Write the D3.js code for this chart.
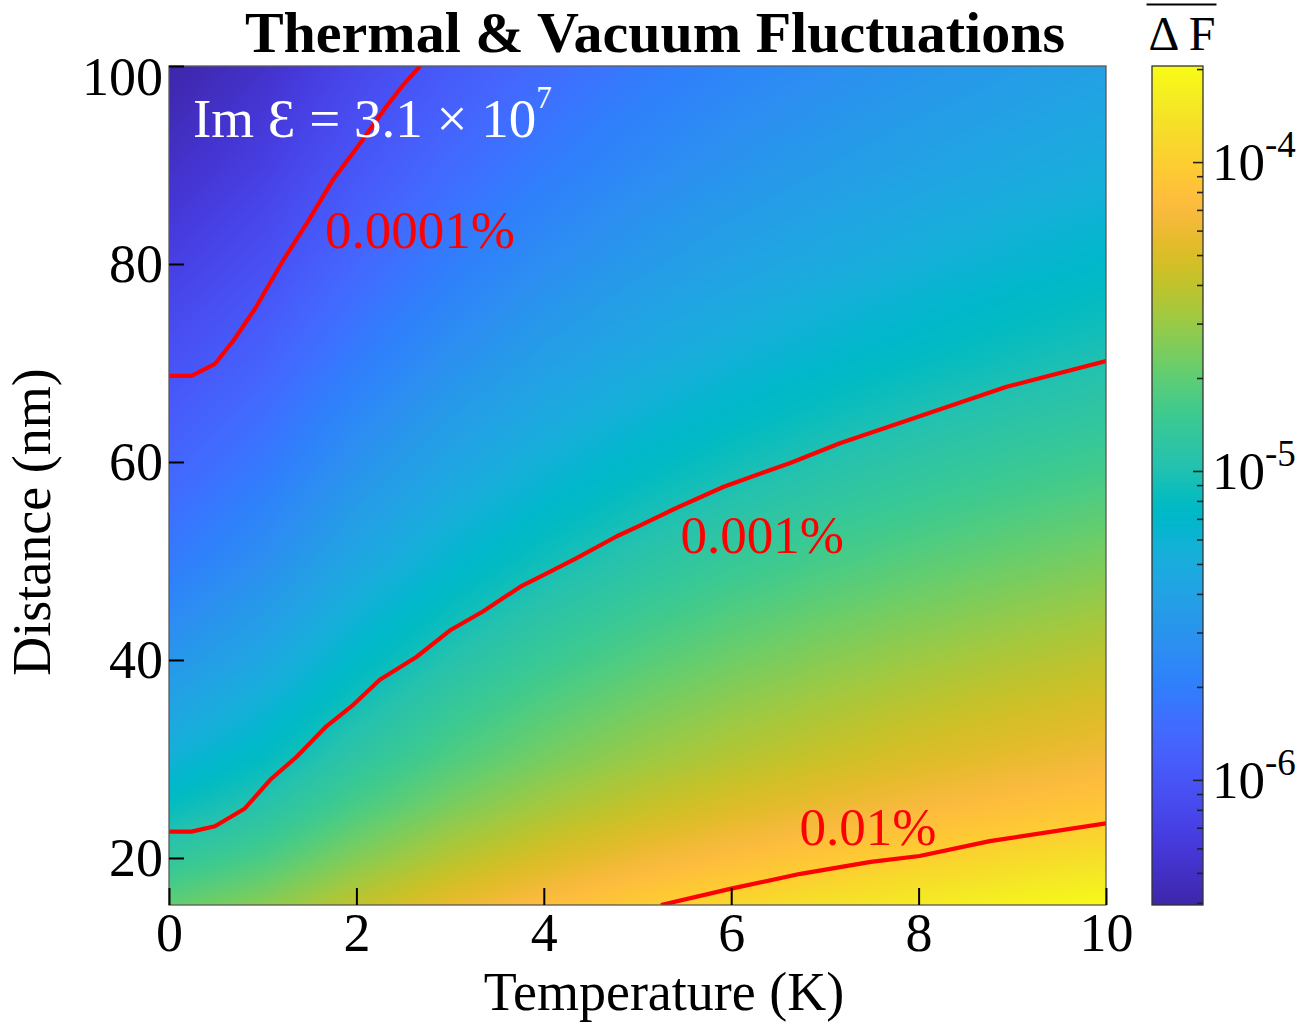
<!DOCTYPE html>
<html><head><meta charset="utf-8">
<script src="https://cdn.jsdelivr.net/npm/d3@7"></script>
<style>
body{margin:0;background:#fff}
svg{display:block}
text{font-family:"Liberation Serif","Times New Roman","DejaVu Serif",serif}
</style>
</head><body>
<svg id="chart" width="1301" height="1024"></svg>
<script>
// ---------------- data ----------------
const temperatures = [0,1,2,3,4,5,6,7,8,9,10];            // K
const distances    = [15,20,25,30,40,50,60,70,80,90,100];  // nm
// log10 of relative force change, rows follow `distances`, columns follow `temperatures`
const logDF = [
  [-4.680,-4.562,-4.385,-4.234,-4.112,-4.012,-3.928,-3.857,-3.794,-3.739,-3.690],
  [-4.895,-4.770,-4.586,-4.431,-4.307,-4.205,-4.121,-4.048,-3.985,-3.930,-3.880],
  [-5.084,-4.954,-4.764,-4.606,-4.480,-4.377,-4.292,-4.219,-4.156,-4.100,-4.050],
  [-5.242,-5.106,-4.911,-4.751,-4.623,-4.519,-4.433,-4.360,-4.296,-4.240,-4.190],
  [-5.504,-5.352,-5.142,-4.973,-4.841,-4.735,-4.647,-4.572,-4.507,-4.451,-4.400],
  [-5.720,-5.566,-5.355,-5.185,-5.052,-4.946,-4.857,-4.783,-4.718,-4.661,-4.610],
  [-5.880,-5.739,-5.539,-5.375,-5.246,-5.141,-5.055,-4.981,-4.917,-4.860,-4.810],
  [-6.020,-5.892,-5.705,-5.549,-5.423,-5.321,-5.236,-5.164,-5.101,-5.045,-4.995],
  [-6.164,-6.039,-5.855,-5.700,-5.576,-5.475,-5.390,-5.318,-5.255,-5.200,-5.150],
  [-6.290,-6.169,-5.989,-5.837,-5.714,-5.613,-5.529,-5.457,-5.395,-5.340,-5.290],
  [-6.405,-6.285,-6.107,-5.955,-5.833,-5.733,-5.649,-5.577,-5.515,-5.459,-5.410]
];
// contour lines [temperature, distance]
const contour0001 = [[0,68.7],[0.24,68.7],[0.49,69.9],[0.69,72.3],[0.92,75.5],[1.22,80.4],[1.47,84.1],[1.75,88.5],[2.04,92.2],[2.32,95.9],[2.50,98.1],[2.68,100]];
const contour001  = [[0,22.66],[0.24,22.66],[0.49,23.2],[0.81,25.0],[1.08,27.9],[1.36,30.2],[1.68,33.3],[1.97,35.5],[2.25,38.0],[2.64,40.3],[3.0,43.0],[3.35,44.9],[3.75,47.4],[4.0,48.6],[4.35,50.3],[4.78,52.5],[5.03,53.6],[5.38,55.2],[5.92,57.5],[6.63,59.9],[7.16,61.9],[8.16,65.1],[8.94,67.6],[10,70.2]];
const contour01   = [[5.25,15.25],[6.0,16.9],[6.74,18.4],[7.49,19.6],[8.01,20.2],[8.76,21.7],[10,23.5]];
const contourLabels = ["0.0001%","0.001%","0.01%"];
const contourLabelAt = [[1.665,81.6],[5.46,50.8],[6.73,21.3]];
const xTicks = [0,2,4,6,8,10];
const yTicks = [20,40,60,80,100];
const cbarMajor = [1e-6,1e-5,1e-4];
const cbarExp = ["-6","-5","-4"];
const xDomain = [0,10];
const yDomain = [15.25,100];
const logRange = [-6.405,-3.689];

// MATLAB parula(64)
const parula = [
[0.2422,0.1504,0.6603],[0.2504,0.1650,0.7076],[0.2578,0.1818,0.7511],[0.2647,0.1978,0.7952],
[0.2706,0.2147,0.8364],[0.2751,0.2342,0.8710],[0.2783,0.2559,0.8991],[0.2803,0.2782,0.9221],
[0.2813,0.3006,0.9414],[0.2810,0.3228,0.9579],[0.2795,0.3447,0.9717],[0.2760,0.3667,0.9829],
[0.2699,0.3892,0.9906],[0.2602,0.4123,0.9952],[0.2440,0.4358,0.9988],[0.2206,0.4603,0.9973],
[0.1963,0.4847,0.9892],[0.1834,0.5074,0.9798],[0.1786,0.5289,0.9682],[0.1764,0.5499,0.9520],
[0.1687,0.5703,0.9359],[0.1540,0.5902,0.9218],[0.1460,0.6091,0.9079],[0.1380,0.6276,0.8973],
[0.1248,0.6459,0.8883],[0.1113,0.6635,0.8763],[0.0952,0.6798,0.8598],[0.0689,0.6948,0.8394],
[0.0297,0.7082,0.8163],[0.0036,0.7203,0.7917],[0.0067,0.7312,0.7660],[0.0433,0.7411,0.7394],
[0.0964,0.7500,0.7120],[0.1408,0.7584,0.6842],[0.1717,0.7670,0.6554],[0.1938,0.7758,0.6251],
[0.2161,0.7843,0.5923],[0.2470,0.7918,0.5567],[0.2906,0.7973,0.5188],[0.3406,0.8008,0.4789],
[0.3909,0.8029,0.4354],[0.4456,0.8024,0.3909],[0.5044,0.7993,0.3480],[0.5616,0.7942,0.3045],
[0.6174,0.7876,0.2612],[0.6720,0.7793,0.2227],[0.7242,0.7698,0.1910],[0.7738,0.7598,0.1646],
[0.8203,0.7498,0.1535],[0.8634,0.7406,0.1596],[0.9035,0.7330,0.1774],[0.9393,0.7288,0.2100],
[0.9728,0.7298,0.2394],[0.9956,0.7434,0.2371],[0.9970,0.7659,0.2199],[0.9952,0.7893,0.2028],
[0.9892,0.8136,0.1885],[0.9786,0.8386,0.1766],[0.9676,0.8639,0.1643],[0.9610,0.8890,0.1537],
[0.9597,0.9135,0.1423],[0.9628,0.9373,0.1265],[0.9691,0.9606,0.1064],[0.9769,0.9839,0.0805]];

// ---------------- scales ----------------
const svg = d3.select("#chart");
const x = d3.scaleLinear().domain(xDomain).range([169,1106]);
const y = d3.scaleLinear().domain(yDomain).range([905,66]);
const cy = d3.scaleLog().domain([10**logRange[0],10**logRange[1]]).range([905,66]);
const interp = d3.piecewise(d3.interpolateRgb, parula.map(c=>d3.rgb(c[0]*255,c[1]*255,c[2]*255)));

const LUTN = 2048;
const lut = d3.range(LUTN).map(i=>{const c=d3.rgb(interp(i/(LUTN-1)));return [c.r,c.g,c.b];});
function lutColor(v){
  let t=(v-logRange[0])/(logRange[1]-logRange[0]);
  t=Math.max(0,Math.min(1,t));
  return lut[Math.round(t*(LUTN-1))];
}
function valueAt(T,d){
  const i=Math.min(Math.max(d3.bisectRight(temperatures,T)-1,0),temperatures.length-2);
  const j=Math.min(Math.max(d3.bisectRight(distances,d)-1,0),distances.length-2);
  const tx=(T-temperatures[i])/(temperatures[i+1]-temperatures[i]);
  const ty=(d-distances[j])/(distances[j+1]-distances[j]);
  const a=logDF[j][i]*(1-tx)+logDF[j][i+1]*tx;
  const b=logDF[j+1][i]*(1-tx)+logDF[j+1][i+1]*tx;
  return a*(1-ty)+b*ty;
}

// ---------------- heatmap ----------------
const px0=x(xDomain[0]), px1=x(xDomain[1]), pyT=y(yDomain[1]), pyB=y(yDomain[0]);
const W=Math.round(px1-px0), H=Math.round(pyB-pyT);
const cv=document.createElement("canvas"); cv.width=W; cv.height=H;
const ctx=cv.getContext("2d"); const img=ctx.createImageData(W,H);
for(let jj=0;jj<H;jj++){
  const d=y.invert(pyT+jj+0.5);
  for(let ii=0;ii<W;ii++){
    const T=x.invert(px0+ii+0.5);
    const c=lutColor(valueAt(T,d));
    const k=(jj*W+ii)*4;
    img.data[k]=c[0];img.data[k+1]=c[1];img.data[k+2]=c[2];img.data[k+3]=255;
  }
}
ctx.putImageData(img,0,0);
svg.append("image").attr("x",px0).attr("y",pyT).attr("width",px1-px0).attr("height",pyB-pyT)
  .attr("preserveAspectRatio","none").attr("href",cv.toDataURL());

// clip for contours
svg.append("clipPath").attr("id","plotclip").append("rect")
  .attr("x",px0).attr("y",pyT).attr("width",px1-px0).attr("height",pyB-pyT);

const line=d3.line().x(p=>x(p[0])).y(p=>y(p[1]));
const cg=svg.append("g").attr("clip-path","url(#plotclip)");
[contour0001,contour001,contour01].forEach(c=>{
  cg.append("path").attr("d",line(c)).attr("fill","none").attr("stroke","#ff0000")
    .attr("stroke-width",4.2).attr("stroke-linejoin","round");
});
contourLabels.forEach((t,i)=>{
  svg.append("text").attr("x",x(contourLabelAt[i][0])).attr("y",y(contourLabelAt[i][1]))
    .attr("font-size",53).attr("fill","#ff0000").text(t);
});

// annotation
const ann=svg.append("text").attr("x",x(0.256)).attr("y",y(92.8)).attr("font-size",55).attr("fill","#fff");
ann.append("tspan").text("Im \u0190 = 3.1 \u00d7 10");
ann.append("tspan").attr("font-size",31).attr("dy",-29).text("7");

// frame
svg.append("rect").attr("x",px0).attr("y",pyT).attr("width",px1-px0).attr("height",pyB-pyT)
  .attr("fill","none").attr("stroke","#5a5a5a").attr("stroke-width",1.3);

// axes
const gx=svg.append("g").attr("transform",`translate(0,${pyB})`)
  .call(d3.axisBottom(x).tickValues(xTicks).tickFormat(d3.format("d")).tickSizeInner(-17).tickSizeOuter(0).tickPadding(8));
const gy=svg.append("g").attr("transform",`translate(${px0},0)`)
  .call(d3.axisLeft(y).tickValues(yTicks).tickFormat(d3.format("d")).tickSizeInner(-15).tickSizeOuter(0).tickPadding(6));
[gx,gy].forEach(g=>{
  g.select(".domain").remove();
  g.selectAll(".tick line").attr("stroke","#000").attr("stroke-width",2);
  g.selectAll(".tick text").attr("font-size",54).attr("fill","#000")
    .attr("font-family",'"Liberation Serif","Times New Roman",serif');
});
gy.selectAll(".tick text").filter(d=>d===100).attr("dy","0.53em");

// axis titles
svg.append("text").attr("x",664).attr("y",1010).attr("text-anchor","middle").attr("font-size",54).text("Temperature (K)");
svg.append("text").attr("transform","translate(50,522) rotate(-90)").attr("text-anchor","middle").attr("font-size",54).text("Distance (nm)");
svg.append("text").attr("x",655).attr("y",52).attr("text-anchor","middle").attr("font-size",58).attr("font-weight","bold").text("Thermal & Vacuum Fluctuations");

// ---------------- colorbar ----------------
const cbx0=1152, cbx1=1203;
const cb=document.createElement("canvas"); cb.width=1; cb.height=H;
const cctx=cb.getContext("2d"); const cimg=cctx.createImageData(1,H);
for(let jj=0;jj<H;jj++){
  const v=Math.log10(cy.invert(pyT+jj+0.5));
  const c=lutColor(v);
  cimg.data[jj*4]=c[0];cimg.data[jj*4+1]=c[1];cimg.data[jj*4+2]=c[2];cimg.data[jj*4+3]=255;
}
cctx.putImageData(cimg,0,0);
svg.append("image").attr("x",cbx0).attr("y",cy.range()[1]).attr("width",cbx1-cbx0)
  .attr("height",cy.range()[0]-cy.range()[1]).attr("preserveAspectRatio","none").attr("href",cb.toDataURL());
svg.append("rect").attr("x",cbx0).attr("y",cy.range()[1]).attr("width",cbx1-cbx0)
  .attr("height",cy.range()[0]-cy.range()[1]).attr("fill","none").attr("stroke","#333").attr("stroke-width",1.3);

const minor=[];
[-7,-6,-5,-4].forEach(e=>{for(let k=2;k<=9;k++){const v=k*10**e; if(v>=cy.domain()[0]&&v<=cy.domain()[1])minor.push(v);}});
const gcm=svg.append("g").attr("transform",`translate(${cbx1},0)`)
  .call(d3.axisRight(cy).tickValues(minor).tickFormat("").tickSizeInner(-6).tickSizeOuter(0));
const gcM=svg.append("g").attr("transform",`translate(${cbx1},0)`)
  .call(d3.axisRight(cy).tickValues(cbarMajor).tickFormat("").tickSizeInner(-10).tickSizeOuter(0));
[gcm,gcM].forEach(g=>{g.select(".domain").remove();g.selectAll(".tick line").attr("stroke","#222").attr("stroke-width",1.6);});
cbarMajor.forEach((v,i)=>{
  const t=svg.append("text").attr("x",1212).attr("y",cy(v)+18).attr("font-size",53);
  t.append("tspan").text("10");
  t.append("tspan").attr("font-size",37).attr("dy",-23).text(cbarExp[i]);
});
const cbt=svg.append("text").attr("x",1182).attr("y",50).attr("text-anchor","middle").attr("font-size",48).text("\u0394 F");
const bb=cbt.node().getBBox();
svg.append("line").attr("x1",bb.x-2).attr("x2",bb.x+bb.width+1).attr("y1",4.5).attr("y2",4.5)
  .attr("stroke","#000").attr("stroke-width",2.2);
</script>
</body></html>
